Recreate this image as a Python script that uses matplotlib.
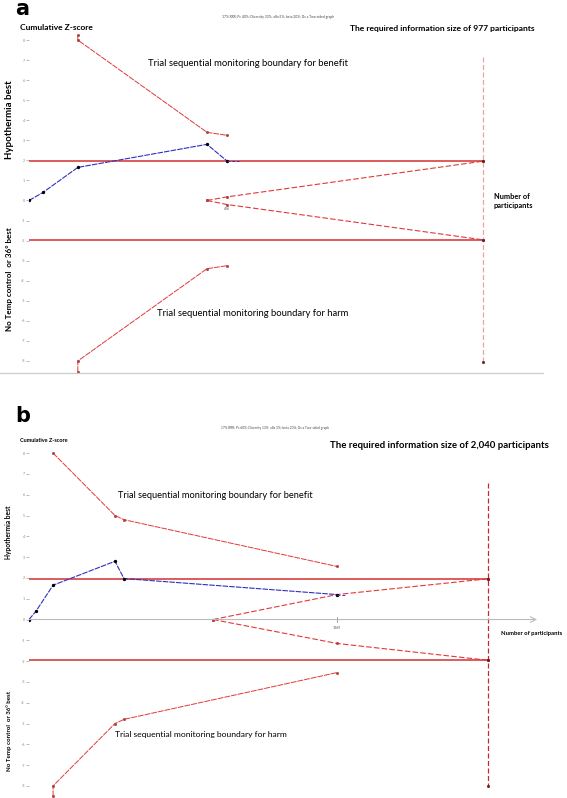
import matplotlib
matplotlib.use('Agg')
import matplotlib.pyplot as plt

plt.rcParams['font.family'] = ['Lato', 'DejaVu Sans']

# ---- panel a data (cumulative participants, z-score) ----
a_n = [0, 30, 105, 383, 426]
a_z = [0, 0.4, 1.65, 2.8, 1.97]
a_ext_n = [426, 452]
a_ext_z = [1.97, 1.97]
a_up_n = [105, 105, 383, 426]
a_up_z = [8.25, 8.0, 3.4, 3.25]
a_lo_n = [105, 105, 383, 426]
a_lo_z = [-8.55, -8.0, -3.4, -3.25]
a_wedge_n = [383, 426, 977]
a_wedge_up = [0, 0.18, 1.96]
a_wedge_lo = [0, -0.2, -1.96]
a_ris = 977
a_ris_z = [7.15, -8.05]

# ---- panel b data ----
b_n = [0, 31, 107, 382, 422, 1369]
b_z = [0, 0.4, 1.65, 2.8, 1.97, 1.2]
b_ext_n = [1369, 1404]
b_ext_z = [1.2, 1.2]
b_up_n = [107, 382, 422, 1369]
b_up_z = [8.0, 5.0, 4.8, 2.55]
b_lo_n = [107, 107, 382, 422, 1369]
b_lo_z = [-8.5, -8.0, -5.0, -4.8, -2.55]
b_wedge_n = [818, 1369, 2040]
b_wedge_up = [0, 1.2, 1.96]
b_wedge_lo = [0, -1.15, -1.96]
b_ris = 2040
b_ris_z = [6.56, -8.0]
b_tick = 1369

yticks = list(range(-8, 9))

W, H = 567, 798
fig = plt.figure(figsize=(W / 100, H / 100), dpi=100)


def box(l, t, r, b):
    return [l / W, 1 - b / H, (r - l) / W, (b - t) / H]


def ftext(px, py, s, **kw):
    fig.text(px / W, 1 - py / H, s, **kw)


red = '#e2383a'
blue = '#2f2fbf'


def draw(ax, n, z, ext_n, ext_z, up_n, up_z, lo_n, lo_z, w_n, w_up, w_lo, ris, ris_z, ris_col):
    ax.axhline(1.96, xmin=0, xmax=ris / ax.get_xlim()[1], color='#d84040', lw=1.2)
    ax.axhline(-1.96, xmin=0, xmax=ris / ax.get_xlim()[1], color='#d84040', lw=1.2)
    mk = dict(marker='s', ms=1.0, mfc='#b04040', mec='#b04040')
    ax.plot(up_n, up_z, color=red, lw=0.7, ls=(0, (6, 1)), **mk)
    ax.plot(lo_n, lo_z, color=red, lw=0.7, ls=(0, (6, 1)), **mk)
    ax.plot(w_n, w_up, color=red, lw=0.8, ls=(0, (5, 2)), **mk)
    ax.plot(w_n, w_lo, color=red, lw=0.8, ls=(0, (5, 2)), **mk)
    ax.plot(n, z, color=blue, lw=0.8, ls=(0, (5, 1)), marker='o', ms=1.4, mfc='black', mec='black')
    ax.plot(ext_n, ext_z, color=blue, lw=0.7, ls=(0, (3, 2)))
    ax.plot([ris, ris], ris_z, color=ris_col, lw=0.9, ls=(0, (4, 2)))
    ax.plot([ris, ris, ris], [1.96, -1.96, ris_z[1]], ls='none', marker='s', ms=1.0, color='#602020')
    ax.set_yticks(yticks)
    ax.set_yticklabels([str(t) for t in yticks])
    ax.tick_params(axis='y', length=2, width=0.4, labelsize=2.6, colors='#888888', pad=1)
    ax.set_xticks([])
    for s in ax.spines.values():
        s.set_visible(False)


# ---- panel a ----
ax1 = fig.add_axes(box(29, 30, 543, 373))
ax1.set_xlim(0, 1106)
ax1.set_ylim(-8.6, 8.5)
draw(ax1, a_n, a_z, a_ext_n, a_ext_z, a_up_n, a_up_z, a_lo_n, a_lo_z,
     a_wedge_n, a_wedge_up, a_wedge_lo, a_ris, a_ris_z, '#f2a0a0')
ax1.plot([-62, 1106], [-8.6, -8.6], color='#cccccc', lw=0.9, clip_on=False)
ax1.text(426, -0.45, '426', fontsize=2.5, color='#555555', ha='center')

# ---- panel b ----
ax2 = fig.add_axes(box(29, 445, 545, 798))
ax2.set_xlim(0, 2293)
ax2.set_ylim(-8.58, 8.39)
ax2.annotate('', xy=(2258, 0), xytext=(0, 0),
             arrowprops=dict(arrowstyle='->', color='#bbbbbb', lw=0.8, shrinkA=0, shrinkB=0))
ax2.plot([b_tick, b_tick], [0.12, -0.12], color='#777777', lw=0.5)
ax2.text(b_tick, -0.45, str(b_tick), fontsize=2.5, color='#555555', ha='center')
draw(ax2, b_n, b_z, b_ext_n, b_ext_z, b_up_n, b_up_z, b_lo_n, b_lo_z,
     b_wedge_n, b_wedge_up, b_wedge_lo, b_ris, b_ris_z, '#c8282a')

# ---- texts ----
ftext(15, 9, 'a', fontsize=15, fontweight='bold', va='center', family='DejaVu Sans')
ftext(278, 17, '17% RRR; Pc 40%; Diversity 33%; alfa 5%; beta 20%; Ds a Two-sided graph',
      fontsize=2.4, ha='center', va='center', color='#444444')
ftext(20, 27, 'Cumulative Z-score', fontsize=6.0, fontweight='bold', va='center')
ftext(350, 28, 'The required information size of 977 participants', fontsize=6.1,
      fontweight='bold', va='center')
ftext(148, 63, 'Trial sequential monitoring boundary for benefit', fontsize=6.8, va='center')
ftext(157, 314, 'Trial sequential monitoring boundary for harm', fontsize=6.8, va='center')
ftext(494, 201, 'Number of\nparticipants', fontsize=5.3, fontweight='bold', va='center',
      linespacing=1.4)
ftext(10, 120, 'Hypothermia best', fontsize=7.0, fontweight='bold', rotation=90,
      ha='center', va='center')
ftext(10, 279, 'No Temp control  or 36° best', fontsize=5.8, fontweight='bold', rotation=90,
      ha='center', va='center')

ftext(15, 416, 'b', fontsize=15, fontweight='bold', va='center', family='DejaVu Sans')
ftext(275, 428, '17% RRR; Pc 60%; Diversity 13%; alfa 5%; beta 20%; Ds a Two-sided graph',
      fontsize=2.3, ha='center', va='center', color='#444444')
ftext(20, 440, 'Cumulative Z-score', fontsize=4.0, fontweight='bold', va='center')
ftext(330, 446, 'The required information size of 2,040 participants', fontsize=6.9,
      fontweight='bold', va='center')
ftext(118, 495, 'Trial sequential monitoring boundary for benefit', fontsize=6.7, va='center')
ftext(115, 734, 'Trial sequential monitoring boundary for harm', fontsize=6.1, va='center')
ftext(501, 634, 'Number of participants', fontsize=4.2, fontweight='bold', va='center')
ftext(9, 532, 'Hypothermia best', fontsize=4.8, fontweight='bold', rotation=90,
      ha='center', va='center')
ftext(9, 731, 'No Temp control  or 36° best', fontsize=4.4, fontweight='bold', rotation=90,
      ha='center', va='center')

fig.savefig('out.png', dpi=100)
